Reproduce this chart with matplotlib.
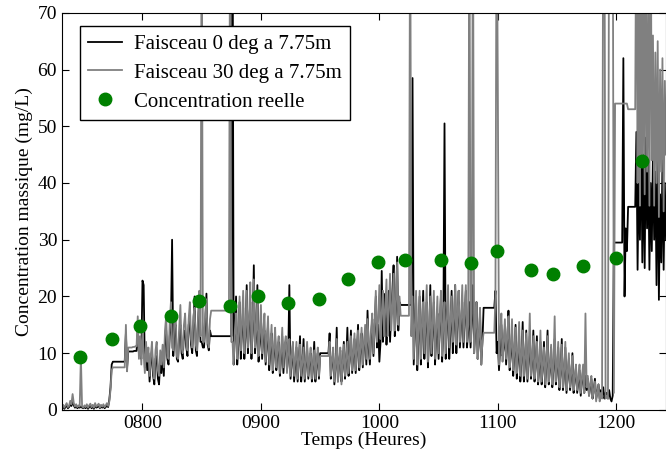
# concentration vs time, two acoustic beams and lab samples
import numpy as np
import matplotlib
matplotlib.use('Agg')
import matplotlib.pyplot as plt

plt.rcParams['font.family'] = ['Liberation Serif', 'DejaVu Serif']

# hourly readings starting at hour 732
t_start = 732

# beam 0 deg (black), 20 values per row
beam0 = [
    0.3, 0.6, 0.2, 0.5, 0.8, 0.3, 0.5, 1.0, 0.7, 1.6, 0.8, 0.4, 0.7, 0.3, 0.5, 0.4, 0.6, 0.4, 0.3, 0.5,
    0.3, 0.7, 0.2, 0.5, 0.8, 0.3, 0.6, 0.2, 0.9, 0.4, 0.5, 0.8, 0.3, 0.6, 0.4, 0.7, 0.3, 0.5, 0.9, 0.5,
    1.8, 4.0, 8.0, 8.5, 8.5, 8.5, 8.5, 8.5, 8.5, 8.5, 8.5, 8.5, 8.5, 8.5, 13.5, 7.5, 10.3, 10.3, 10.3, 10.3,
    10.3, 10.4, 10.4, 10.4, 14.0, 10.0, 12.0, 9.0, 22.8, 22.0, 7.5, 11.0, 7.0, 10.0, 5.0, 8.5, 10.5, 6.0, 4.5, 9.0,
    9.5, 5.5, 4.5, 9.0, 6.5, 10.0, 6.0, 12.0, 14.0, 9.0, 8.0, 13.0, 15.0, 30.0, 9.5, 14.0, 15.0, 9.0, 8.5, 13.0,
    15.0, 10.0, 9.0, 13.5, 14.0, 11.0, 9.5, 15.0, 16.0, 11.5, 10.0, 15.0, 20.0, 10.5, 9.5, 16.0, 19.0, 12.0, 12.0, 11.0,
    11.0, 15.0, 20.5, 11.5, 10.5, 14.0, 13.0, 13.0, 13.0, 13.0, 13.0, 13.0, 13.0, 13.0, 13.0, 13.0, 13.0, 13.0, 13.0, 13.0,
    13.0, 13.0, 13.0, 13.0, 95.0, 8.0, 13.0, 20.0, 8.0, 12.0, 19.0, 9.0, 14.0, 18.0, 9.0, 13.0, 22.0, 10.0, 15.0, 19.0,
    9.0, 14.0, 25.5, 10.0, 13.0, 22.0, 8.5, 12.0, 16.0, 9.0, 13.0, 14.0, 8.0, 11.5, 15.0, 7.0, 10.5, 13.5, 6.5, 10.0,
    13.0, 7.0, 10.0, 12.0, 6.0, 9.0, 13.0, 6.5, 10.5, 12.0, 7.0, 9.0, 22.0, 5.5, 8.5, 11.5, 5.0, 8.0, 11.0, 5.0,
    8.5, 13.0, 5.0, 8.0, 12.5, 5.0, 8.0, 11.0, 5.5, 8.5, 10.0, 5.0, 7.5, 12.0, 5.0, 8.0, 10.0, 5.5, 10.0, 10.0,
    10.0, 10.0, 10.0, 10.0, 10.0, 10.0, 13.5, 5.5, 8.5, 10.0, 4.5, 7.5, 14.5, 5.0, 8.0, 10.5, 5.0, 7.5, 12.0, 5.5,
    8.5, 14.5, 6.0, 9.0, 14.0, 6.5, 9.5, 12.5, 6.5, 10.0, 15.0, 7.0, 10.5, 13.5, 7.5, 11.0, 14.0, 8.0, 17.5, 11.0,
    8.0, 13.0, 16.0, 9.5, 14.0, 20.0, 11.0, 15.0, 8.5, 12.0, 24.5, 12.0, 16.0, 20.5, 11.5, 16.0, 21.0, 12.0, 17.0, 21.0,
    25.5, 13.0, 18.0, 27.0, 14.0, 19.0, 18.5, 18.5, 18.5, 18.5, 18.5, 18.5, 18.5, 18.5, 18.5, 18.5, 58.5, 8.0, 14.0, 20.0,
    7.0, 13.0, 20.0, 8.0, 14.0, 21.0, 9.0, 15.0, 19.0, 7.5, 13.0, 22.0, 9.5, 14.0, 19.0, 8.0, 13.0, 17.0, 9.0, 15.0,
    20.0, 8.5, 14.0, 50.5, 9.0, 15.0, 20.0, 9.0, 14.0, 21.0, 10.0, 15.0, 22.0, 10.0, 16.0, 21.0, 11.0, 15.0, 19.0, 11.0,
    16.0, 21.0, 11.0, 14.0, 19.0, 11.0, 16.0, 22.0, 10.0, 14.0, 19.0, 9.0, 12.0, 17.0, 8.0, 12.0, 18.0, 18.0, 18.0, 18.0,
    18.0, 18.0, 18.0, 18.0, 18.0, 18.0, 21.0, 10.0, 12.0, 7.0, 11.0, 15.0, 9.5, 11.0, 14.5, 8.0, 12.0, 17.5, 7.0, 10.0,
    14.0, 6.0, 10.0, 15.0, 5.5, 9.0, 13.0, 5.0, 9.0, 15.5, 5.0, 8.5, 14.0, 5.0, 9.0, 13.0, 5.5, 8.5, 14.0, 5.0,
    8.0, 13.0, 4.5, 7.5, 12.0, 4.5, 7.5, 12.0, 4.0, 8.0, 14.0, 4.5, 7.0, 11.0, 4.0, 7.5, 12.5, 4.5, 7.0, 11.0,
    3.5, 6.5, 12.5, 3.5, 6.5, 11.0, 3.0, 6.0, 9.0, 3.5, 6.0, 10.0, 3.0, 5.5, 7.5, 3.0, 5.0, 7.0, 2.5, 5.0,
    7.0, 3.0, 6.0, 3.5, 5.5, 2.5, 4.0, 5.5, 2.0, 3.5, 5.5, 2.0, 3.0, 4.5, 2.0, 3.5, 2.5, 4.0, 2.0, 3.0,
    3.0, 2.0, 3.5, 2.0, 1.5, 2.5, 29.5, 29.5, 29.5, 29.5, 29.5, 29.5, 29.5, 29.5, 62.0, 20.0, 32.0, 28.0, 35.8, 35.8,
    35.8, 35.8, 35.8, 35.8, 35.8, 49.0, 24.7, 42.0, 30.0, 51.0, 26.0, 45.0, 25.0, 48.0, 32.0, 44.0, 24.7, 40.0, 28.0, 46.0,
    30.0, 42.0, 22.0, 47.0, 19.4, 38.0, 26.0, 44.0, 24.7, 40.0, 30.0,
]

# beam 30 deg (grey)
beam30 = [
    0.5, 0.9, 0.4, 0.8, 1.2, 0.5, 0.7, 1.6, 1.0, 2.8, 1.2, 0.6, 1.0, 0.5, 0.8, 0.6, 9.4, 0.6, 0.4, 0.8,
    0.5, 1.0, 0.4, 0.8, 1.1, 0.5, 0.9, 0.4, 1.2, 0.6, 0.8, 1.1, 0.4, 0.9, 0.6, 1.0, 0.5, 0.8, 1.2, 0.7,
    1.5, 3.5, 7.0, 7.5, 7.5, 7.5, 7.5, 7.5, 7.5, 7.5, 7.5, 7.5, 7.5, 7.5, 15.0, 6.8, 11.0, 11.0, 11.0, 11.0,
    11.1, 11.1, 11.2, 11.2, 16.5, 9.0, 13.0, 8.0, 14.0, 10.0, 6.5, 12.0, 8.5, 11.0, 6.0, 9.5, 12.0, 7.0, 5.5, 10.5,
    12.0, 7.0, 6.0, 10.5, 8.0, 11.5, 7.5, 14.0, 16.5, 10.0, 9.0, 15.5, 19.0, 11.0, 10.5, 16.0, 17.0, 9.5, 9.0, 14.5,
    18.5, 11.0, 10.0, 15.0, 17.0, 12.0, 10.5, 16.0, 19.0, 12.5, 11.0, 16.5, 18.0, 11.5, 10.5, 17.0, 21.0, 13.0, 95.0, 12.0,
    12.0, 17.0, 19.5, 12.0, 11.0, 16.0, 17.5, 17.5, 17.5, 17.5, 17.5, 17.5, 17.5, 17.5, 17.5, 17.5, 17.5, 17.5, 17.5, 17.5,
    17.5, 17.5, 95.0, 12.0, 12.0, 8.0, 14.0, 17.0, 9.0, 13.0, 20.0, 10.5, 15.0, 21.0, 10.0, 14.5, 21.0, 11.0, 16.0, 22.5,
    10.0, 15.5, 23.0, 11.0, 14.0, 20.0, 9.5, 13.5, 18.5, 10.0, 14.0, 17.0, 8.5, 12.5, 16.5, 8.0, 11.5, 15.0, 7.0, 11.0,
    14.5, 7.5, 11.0, 13.0, 6.5, 10.0, 14.5, 7.5, 11.5, 13.0, 6.5, 10.0, 12.5, 6.0, 9.5, 12.0, 6.0, 9.0, 12.0, 5.5,
    9.0, 11.5, 6.0, 8.5, 11.0, 5.5, 8.5, 12.0, 6.0, 9.0, 11.0, 5.5, 8.0, 10.5, 5.5, 8.5, 11.0, 6.0, 9.5, 9.5,
    9.5, 9.5, 9.5, 9.5, 9.5, 9.5, 12.0, 6.0, 9.0, 11.0, 5.0, 8.0, 12.5, 5.0, 8.5, 11.0, 4.5, 8.0, 11.5, 6.0,
    9.0, 12.0, 6.5, 9.5, 13.0, 7.0, 10.0, 13.5, 7.0, 10.5, 14.0, 7.5, 11.0, 14.5, 8.0, 11.5, 15.0, 9.0, 16.0, 12.0,
    9.0, 14.0, 17.0, 10.0, 15.0, 21.0, 12.0, 16.0, 22.0, 12.5, 17.0, 21.0, 13.0, 18.0, 23.0, 13.0, 17.5, 24.0, 14.0, 18.0,
    24.0, 14.0, 19.0, 26.0, 15.0, 20.0, 16.6, 16.6, 16.6, 16.6, 16.6, 16.6, 16.6, 16.6, 95.0, 13.0, 20.0, 9.0, 15.0, 21.0,
    8.0, 14.0, 21.0, 9.0, 15.0, 19.0, 10.0, 16.0, 22.0, 8.5, 14.0, 20.0, 10.0, 15.5, 21.0, 9.0, 14.5, 20.0, 10.0, 16.0,
    21.0, 9.5, 15.0, 19.0, 10.0, 16.0, 22.0, 11.0, 15.5, 20.0, 12.0, 16.0, 22.0, 11.5, 17.0, 21.0, 12.0, 16.0, 22.0, 12.0,
    17.0, 22.0, 12.0, 15.0, 95.0, 12.0, 17.0, 95.0, 10.0, 15.0, 19.0, 9.0, 13.0, 18.0, 8.0, 12.0, 13.6, 13.6, 13.6, 13.6,
    13.6, 13.6, 13.6, 13.6, 13.6, 13.6, 20.0, 95.0, 57.5, 8.0, 13.0, 17.0, 8.5, 12.0, 16.0, 9.0, 13.0, 16.5, 7.5, 11.0,
    16.0, 7.0, 10.5, 14.5, 6.5, 10.0, 15.5, 6.0, 9.5, 14.0, 6.0, 9.0, 13.5, 5.5, 9.5, 17.0, 6.0, 9.0, 13.0, 5.5,
    8.5, 12.0, 5.0, 8.0, 14.0, 5.0, 8.0, 11.0, 4.5, 8.5, 13.0, 5.0, 7.5, 11.5, 4.5, 8.0, 16.5, 5.0, 7.5, 12.0,
    4.0, 7.0, 11.5, 4.0, 7.0, 12.0, 3.5, 6.5, 10.0, 4.0, 6.5, 9.5, 3.5, 6.0, 8.0, 3.5, 5.5, 8.0, 3.0, 5.5,
    8.0, 3.0, 17.0, 4.0, 6.0, 2.5, 4.5, 6.0, 2.0, 3.5, 5.0, 1.5, 3.0, 4.5, 1.5, 3.0, 2.0, 95.0, 95.0, 2.0,
    2.5, 2.0, 95.0, 95.0, 95.0, 95.0, 3.0, 54.0, 54.0, 54.0, 54.0, 54.0, 54.0, 54.0, 54.0, 54.0, 54.0, 54.0, 53.0, 53.0,
    53.0, 53.0, 53.0, 53.0, 53.0, 95.0, 40.0, 80.0, 36.0, 95.0, 45.0, 75.0, 38.0, 85.0, 42.0, 70.0, 36.0, 95.0, 44.0, 66.0,
    36.0, 63.0, 40.0, 65.0, 34.0, 60.0, 42.0, 62.0, 35.0, 58.0, 45.0,
]

# lab samples
sample_t = [747.6, 774.6, 798.3, 824.5, 847.3, 873.5, 897.2, 922.6, 948.8, 973.3,
            998.6, 1021.5, 1051.9, 1077.3, 1099.2, 1128.0, 1146.6, 1171.9, 1199.8, 1221.8]
sample_c = [9.35, 12.5, 14.8, 16.6, 19.2, 18.3, 20.1, 18.9, 19.6, 23.1,
            26.1, 26.5, 26.5, 25.9, 28.0, 24.7, 24.0, 25.4, 26.7, 43.8]

t = t_start + np.arange(len(beam0))

fig = plt.figure(figsize=(6.66, 4.57), dpi=100)
ax = fig.add_axes([0.093, 0.103, 0.907, 0.869])

ax.plot(t, beam0, color='black', lw=1.3, label='Faisceau 0 deg a 7.75m')
ax.plot(t, beam30, color='#808080', lw=1.3, label='Faisceau 30 deg a 7.75m')
ax.plot(sample_t, sample_c, 'o', color='#008000', markersize=9, label='Concentration reelle')

ax.set_xlim(732, 1242)
ax.set_ylim(0, 70)
ax.set_xticks([800, 900, 1000, 1100, 1200])
ax.set_xticklabels(['0800', '0900', '1000', '1100', '1200'])
ax.set_yticks(range(0, 71, 10))
ax.tick_params(direction='in', top=True, right=True, length=5, labelsize=14)
ax.set_xlabel('Temps (Heures)', fontsize=14, labelpad=0)
ax.set_ylabel('Concentration massique (mg/L)', fontsize=14, labelpad=3)

leg = ax.legend(loc='upper left', bbox_to_anchor=(0.03, 0.967), borderaxespad=0,
                fancybox=False, edgecolor='black', framealpha=1, fontsize=15,
                handlelength=1.6, handletextpad=0.6, borderpad=0.4, labelspacing=0.45)
leg.get_frame().set_linewidth(1.0)

fig.savefig('out.png', dpi=100)
